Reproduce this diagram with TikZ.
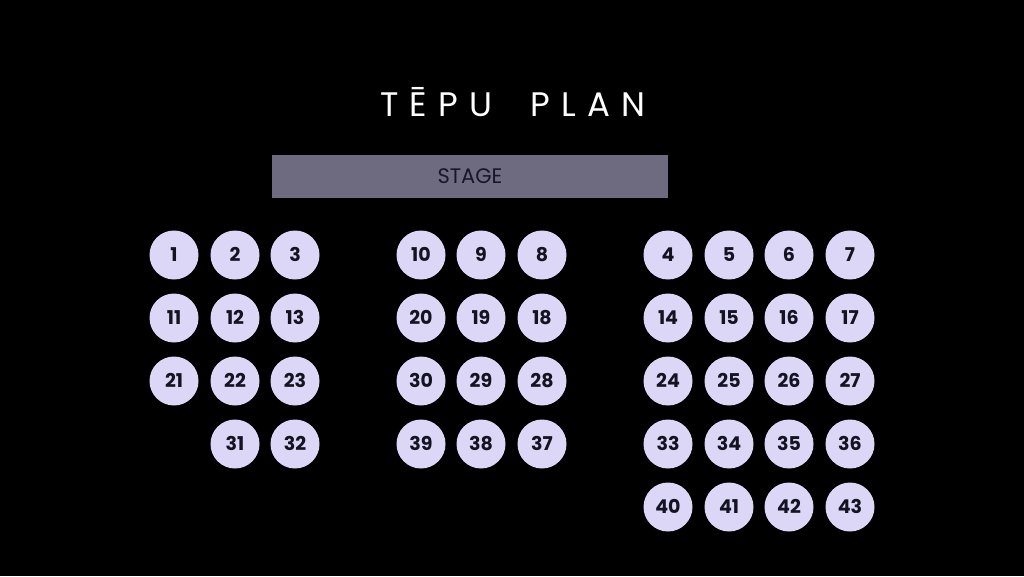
\documentclass[tikz,border=0pt]{standalone}
\usepackage{fontspec}
\setmainfont{Poppins}
\newfontfamily\titlefont{Poppins}[LetterSpace=33]
\definecolor{seatfill}{HTML}{DCD6F7}
\definecolor{stagefill}{HTML}{6E6A80}
\definecolor{stagetext}{HTML}{16162A}
\definecolor{seattext}{HTML}{141420}
\begin{document}
\begin{tikzpicture}[x=1pt,y=-1pt,
  seat/.style={circle,fill=seatfill,minimum size=49pt,inner sep=0pt,
    text height=13.3pt,text depth=0pt,
    font=\fontsize{19}{19}\selectfont\bfseries,text=seattext},
  stagebox/.style={fill=stagefill,minimum width=396pt,minimum height=43pt,inner sep=0pt,
    text height=14.7pt,text depth=0pt,
    font=\fontsize{21}{21}\selectfont,text=stagetext},
  titletext/.style={font=\titlefont\fontsize{34}{34}\selectfont,text=white,inner sep=0pt,anchor=base west}]
\useasboundingbox[fill=black] (0,0) rectangle (1024,576);
\node[titletext] (title1) at (380,116) {TĒPU};
\node[titletext] (title2) at (530,116) {PLAN};
\node[stagebox] (stage) at (470,176.5) {STAGE};
\foreach \n/\x/\y in {1/174/255,2/235/255,3/295/255,
  11/174/318,12/235/318,13/295/318,
  21/174/381,22/235/381,23/295/381,
  31/235/444,32/295/444,
  10/421/255,9/481/255,8/542/255,
  20/421/318,19/481/318,18/542/318,
  30/421/381,29/481/381,28/542/381,
  39/421/444,38/481/444,37/542/444,
  4/668/255,5/729/255,6/789/255,7/850/255,
  14/668/318,15/729/318,16/789/318,17/850/318,
  24/668/381,25/729/381,26/789/381,27/850/381,
  33/668/444,34/729/444,35/789/444,36/850/444,
  40/668/507,41/729/507,42/789/507,43/850/507}
  \node[seat] (s\n) at (\x,\y) {\n};
\end{tikzpicture}
\end{document}
